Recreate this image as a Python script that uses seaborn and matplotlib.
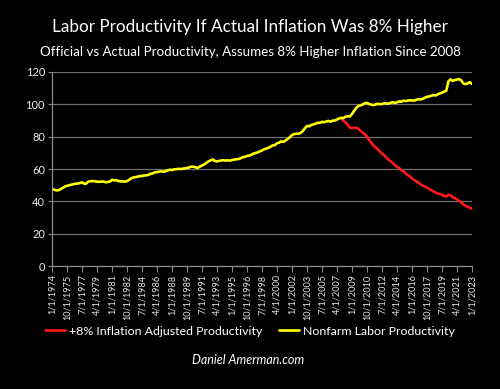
import pandas as pd
import matplotlib
matplotlib.use("Agg")
import matplotlib.pyplot as plt
import seaborn as sns

# Quarterly index values, 1974Q1 .. 2023Q1
nonfarm = [
    47.8, 47.2, 46.8, 46.9,  # 1974
    47.5, 48.3, 49.2, 49.6,  # 1975
    50.0, 50.3, 50.6, 50.9,  # 1976
    51.0, 51.3, 51.8, 50.9,  # 1977
    51.0, 52.3, 52.4, 52.6,  # 1978
    52.4, 52.2, 52.1, 52.2,  # 1979
    52.3, 51.8, 52.0, 52.2,  # 1980
    53.3, 53.0, 53.1, 52.6,  # 1981
    52.3, 52.4, 52.2, 52.5,  # 1982
    53.3, 54.3, 54.8, 55.0,  # 1983
    55.3, 55.6, 55.7, 56.0,  # 1984
    56.1, 56.4, 57.0, 57.3,  # 1985
    57.9, 58.1, 58.4, 58.6,  # 1986
    58.3, 58.6, 59.2, 59.5,  # 1987
    59.4, 59.8, 59.9, 60.1,  # 1988
    60.0, 60.2, 60.4, 60.6,  # 1989
    61.0, 61.5, 61.4, 61.0,  # 1990
    60.7, 61.5, 62.2, 62.8,  # 1991
    63.8, 64.7, 65.3, 65.9,  # 1992
    65.0, 64.7, 65.0, 65.3,  # 1993
    65.4, 65.2, 65.4, 65.2,  # 1994
    65.6, 65.8, 66.0, 66.2,  # 1995
    66.6, 67.3, 67.5, 68.1,  # 1996
    68.3, 68.8, 69.5, 69.9,  # 1997
    70.3, 70.9, 71.5, 72.2,  # 1998
    72.6, 73.2, 73.8, 74.6,  # 1999
    74.8, 75.9, 76.3, 77.1,  # 2000
    76.8, 77.6, 78.7, 79.6,  # 2001
    81.0, 81.6, 81.8, 81.8,  # 2002
    82.3, 83.4, 85.2, 86.6,  # 2003
    86.4, 87.2, 87.6, 88.0,  # 2004
    88.6, 88.5, 89.2, 88.9,  # 2005
    89.4, 89.7, 89.3, 89.9,  # 2006
    90.0, 90.6, 91.3, 91.6,  # 2007
    91.5, 92.3, 92.6, 92.5,  # 2008
    94.0, 96.0, 97.8, 99.0,  # 2009
    99.3, 100.0, 100.6, 100.9,  # 2010
    100.2, 99.8, 99.5, 99.9,  # 2011
    100.4, 100.1, 100.2, 100.6,  # 2012
    100.5, 100.4, 100.9, 101.3,  # 2013
    100.9, 101.2, 101.8, 101.6,  # 2014
    102.3, 102.0, 102.3, 102.5,  # 2015
    102.4, 102.3, 102.8, 103.2,  # 2016
    103.0, 103.4, 104.1, 104.6,  # 2017
    104.9, 105.3, 105.7, 105.5,  # 2018
    106.2, 106.7, 107.2, 107.8,  # 2019
    108.4, 114.2, 115.4, 114.5,  # 2020
    115.0, 115.3, 115.6, 114.8,  # 2021
    112.8, 112.5, 113.0, 113.7,  # 2022
    112.6,  # 2023
]

# +8% inflation adjusted, starting 2007Q4
adjusted_start = 135
adjusted = [
    91.6,  # 2007Q4
    89.8, 88.8, 87.4, 85.6,  # 2008
    85.4, 85.5, 85.5, 84.9,  # 2009
    83.5, 82.5, 81.4, 80.1,  # 2010
    78.0, 76.2, 74.6, 73.4,  # 2011
    72.4, 70.8, 69.5, 68.5,  # 2012
    67.1, 65.8, 64.8, 63.8,  # 2013
    62.4, 61.4, 60.6, 59.3,  # 2014
    58.6, 57.3, 56.3, 55.4,  # 2015
    54.3, 53.2, 52.4, 51.6,  # 2016
    50.5, 49.8, 49.2, 48.5,  # 2017
    47.7, 46.9, 46.2, 45.4,  # 2018
    45.0, 44.5, 44.0, 43.4,  # 2019
    42.9, 44.1, 43.8, 42.6,  # 2020
    42.0, 41.2, 40.3, 39.4,  # 2021
    38.0, 37.2, 36.6, 36.1,  # 2022
    35.4,  # 2023
]

quarters = pd.date_range("1974-01-01", periods=len(nonfarm), freq="QS")
tick_labels = [f"{d.month}/1/{d.year}" for d in quarters]

df_nf = pd.DataFrame({"q": range(len(nonfarm)), "value": nonfarm})
df_adj = pd.DataFrame({"q": range(adjusted_start, adjusted_start + len(adjusted)),
                       "value": adjusted})

sns.set_style("dark")
plt.rcParams["font.family"] = ["Lato", "DejaVu Sans"]

fig = plt.figure(figsize=(5, 3.89), dpi=100, facecolor="black")
ax = fig.add_axes([0.104, 0.316, 0.840, 0.499])
ax.set_facecolor("black")

sns.lineplot(data=df_adj, x="q", y="value", color="#ff1a1a", lw=1.9, ax=ax,
             label="+8% Inflation Adjusted Productivity", legend=False)
sns.lineplot(data=df_nf, x="q", y="value", color="#ffff00", lw=1.9, ax=ax,
             label="Nonfarm Labor Productivity", legend=False)

ax.set_xlim(0, len(nonfarm) - 1)
ax.set_ylim(0, 120)
ax.set_yticks(range(0, 121, 20))
ticks = list(range(0, len(nonfarm), 7))
ax.set_xticks(ticks)
ax.set_xticklabels([tick_labels[i] for i in ticks], rotation=90)
ax.set_xlabel("")
ax.set_ylabel("")

ax.grid(False)
ax.yaxis.grid(True, color="#6e6e6e", lw=0.9)
ax.set_axisbelow(True)
for s in ["top", "right"]:
    ax.spines[s].set_visible(False)
for s in ["left", "bottom"]:
    ax.spines[s].set_visible(True)
    ax.spines[s].set_color("#8a8a8a")
    ax.spines[s].set_linewidth(0.9)
ax.tick_params(axis="x", colors="#8a8a8a", labelcolor="#e8e8e8", labelsize=6.6,
               length=4, width=0.8, bottom=True, pad=2)
ax.tick_params(axis="y", colors="#8a8a8a", labelcolor="#e8e8e8", labelsize=8,
               length=3, width=0.8, left=True, pad=2)

fig.text(0.5, 0.930, "Labor Productivity If Actual Inflation Was 8% Higher",
         ha="center", va="center", color="white", fontsize=12.3)
fig.text(0.5, 0.866, "Official vs Actual Productivity, Assumes 8% Higher Inflation Since 2008",
         ha="center", va="center", color="white", fontsize=9.6)

handles, labels = ax.get_legend_handles_labels()
leg = fig.legend(handles, labels, loc="center", bbox_to_anchor=(0.5, 0.149), ncol=2,
                 frameon=False, fontsize=8.9, handlelength=1.6, handletextpad=0.3,
                 columnspacing=1.4)
for t in leg.get_texts():
    t.set_color("white")

fig.text(0.497, 0.074, "Daniel Amerman.com", ha="center", va="center",
         color="white", fontsize=9, style="italic")

fig.savefig("out.png", dpi=100, facecolor="black")
